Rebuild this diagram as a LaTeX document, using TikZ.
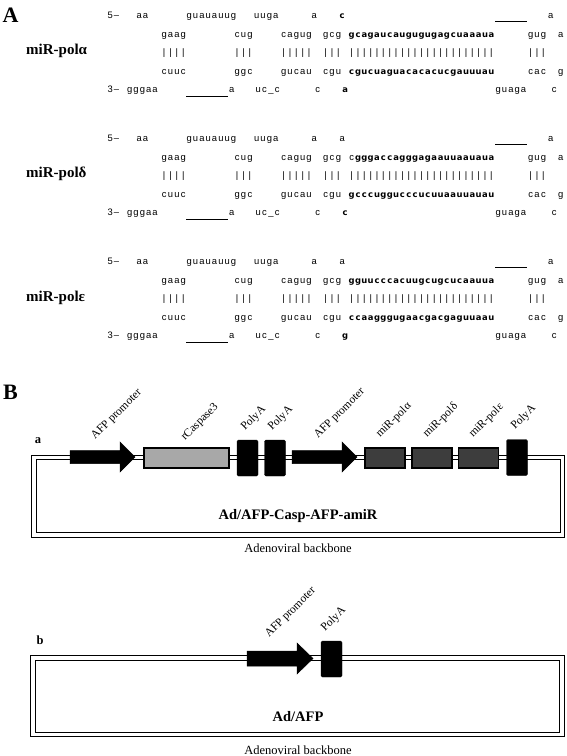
\documentclass[tikz,border=0pt]{standalone}
\usepackage{fontspec}
\setmainfont{Liberation Serif}
\setsansfont{Liberation Sans}
\newfontfamily\heavyfont{DejaVu Sans}
\makeatletter
\newcommand\fixsp[1]{\fix@loop#1\@nil}
\def\fix@loop#1{\ifx#1\@nil\else\makebox[6.35pt][c]{#1}\expandafter\fix@loop\fi}
\makeatother
\newcommand\hv{\heavyfont\bfseries\fontsize{8.4}{10}\selectfont}
\tikzset{
  seq/.style={anchor=base west, inner sep=0pt, outer sep=0pt, font=\sffamily\fontsize{9.4}{10}\selectfont},
  uline/.style={line width=0.6pt},
  mirlabel/.style={anchor=west, inner sep=0pt, font=\bfseries\fontsize{15}{17}\selectfont},
  panel/.style={inner sep=0pt, font=\bfseries\fontsize{22}{24}\selectfont},
  sublabel/.style={inner sep=0pt, font=\bfseries\fontsize{12.5}{14}\selectfont},
  rotlab/.style={rotate=45, anchor=base west, inner sep=0pt, font=\fontsize{11.5}{13}\selectfont},
  backbone/.style={draw=black, line width=1.1pt, double=white, double distance=3.4pt},
  promoter/.style={fill=black, draw=black, line width=0.5pt},
  polya/.style={fill=black, draw=black, rounded corners=1.5pt, minimum width=21pt, minimum height=36pt, inner sep=0pt},
  casp/.style={fill=black!34, draw=black, line width=1.3pt, minimum width=85pt, minimum height=20pt, inner sep=0pt},
  mirbox/.style={fill=black!76, draw=black, line width=1.3pt, minimum width=40pt, minimum height=20pt, inner sep=0pt},
  title/.style={inner sep=0pt, font=\bfseries\fontsize{14.5}{16}\selectfont},
  bbtext/.style={inner sep=0pt, font=\fontsize{12.5}{14}\selectfont}
}
% #1 id, #2 y offset, #3 row1 variable char, #4 row2 long, #5 row4 long, #6 row5 variable char
\newcommand\hairpin[6]{%
\begin{scope}[shift={(0,#2)}]
  \node[seq] (#1-r1a) at (107,2.4) {\fixsp{5–}};
  \node[seq] (#1-r1b) at (136,2.4) {\fixsp{aa}};
  \node[seq] (#1-r1c) at (186,2.4) {\fixsp{guauauug}};
  \node[seq] (#1-r1d) at (253.5,2.4) {\fixsp{uuga}};
  \node[seq] (#1-r1e) at (311,2.4) {\fixsp{a}};
  \node[seq] (#1-r1f) at (339,2.4) {#3};
  \coordinate (#1-u1a) at (495,5.1);
  \coordinate (#1-u1b) at (527,5.1);
  \draw[uline] (#1-u1a) -- (#1-u1b);
  \node[seq] (#1-r1g) at (547.5,2.4) {\fixsp{a}};
  % row 2
  \node[seq] (#1-r2a) at (161,21.4) {\fixsp{gaag}};
  \node[seq] (#1-r2b) at (234,21.4) {\fixsp{cug}};
  \node[seq] (#1-r2c) at (280.5,21.4) {\fixsp{cagug}};
  \node[seq] (#1-r2d) at (322.5,21.4) {\fixsp{gcg}};
  \node[seq] (#1-r2e) at (348.5,21.4) {#4};
  \node[seq] (#1-r2f) at (527.5,21.4) {\fixsp{gug}};
  \node[seq] (#1-r2g) at (557.5,21.4) {\fixsp{a}};
  % row 3
  \node[seq] (#1-r3a) at (161,39.4) {\fixsp{||||}};
  \node[seq] (#1-r3b) at (234,39.4) {\fixsp{|||}};
  \node[seq] (#1-r3c) at (280.5,39.4) {\fixsp{|||||}};
  \node[seq] (#1-r3d) at (322.5,39.4) {\fixsp{|||}};
  \node[seq] (#1-r3e) at (348.5,39.4) {\fixsp{|||||||||||||||||||||||}};
  \node[seq] (#1-r3f) at (527.5,39.4) {\fixsp{|||}};
  % row 4
  \node[seq] (#1-r4a) at (161,58.4) {\fixsp{cuuc}};
  \node[seq] (#1-r4b) at (234,58.4) {\fixsp{ggc}};
  \node[seq] (#1-r4c) at (280.5,58.4) {\fixsp{gucau}};
  \node[seq] (#1-r4d) at (322.5,58.4) {\fixsp{cgu}};
  \node[seq] (#1-r4e) at (348.5,58.4) {#5};
  \node[seq] (#1-r4f) at (527.5,58.4) {\fixsp{cac}};
  \node[seq] (#1-r4g) at (557.5,58.4) {\fixsp{g}};
  % row 5
  \node[seq] (#1-r5a) at (107,76.4) {\fixsp{3–}};
  \node[seq] (#1-r5b) at (126.5,76.4) {\fixsp{gggaa}};
  \coordinate (#1-u5a) at (186,80.7);
  \coordinate (#1-u5b) at (228,80.7);
  \draw[uline] (#1-u5a) -- (#1-u5b);
  \node[seq] (#1-r5c) at (228.5,76.4) {\fixsp{a}};
  \node[seq] (#1-r5d) at (255,76.4) {\fixsp{uc\_c}};
  \node[seq] (#1-r5e) at (314.5,76.4) {\fixsp{c}};
  \node[seq] (#1-r5f) at (342,76.4) {#6};
  \node[seq] (#1-r5g) at (495,76.4) {\fixsp{guaga}};
  \node[seq] (#1-r5h) at (551,76.4) {\fixsp{c}};
\end{scope}}
\begin{document}
\begin{tikzpicture}[x=1pt,y=-1pt]
\useasboundingbox (0,0) rectangle (567,756);
\fill[white] (0,0) rectangle (567,756);
% ---------- Panel A ----------
\node[panel] (labA) at (10.5,15) {A};
\hairpin{h1}{16}{{\hv\fixsp{c}}}{{\hv\fixsp{gcagaucaugugugagcuaaaua}}}{{\hv\fixsp{cgucuaguacacacucgauuuau}}}{{\hv\fixsp{a}}}
\hairpin{h2}{139}{\fixsp{a}}{\fixsp{c}{\hv\fixsp{gggaccagggagaauuaauaua}}}{{\hv\fixsp{gcccuggucccucuuaauuauau}}}{{\hv\fixsp{c}}}
\hairpin{h3}{262}{\fixsp{a}}{{\hv\fixsp{gguucccacuugcugcucaauua}}}{{\hv\fixsp{ccaagggugaacgacgaguuaau}}}{{\hv\fixsp{g}}}
\node[mirlabel] (mira) at (26,51) {miR-polα};
\node[mirlabel] (mird) at (26,174) {miR-polδ};
\node[mirlabel] (mire) at (26,298) {miR-polε};
% ---------- Panel B ----------
\node[panel] (labB) at (10.5,392) {B};
% construct a
\node[sublabel] (suba) at (38,441) {a};
\draw[backbone] (34,457.5) rectangle (562.5,535);
\draw[promoter] (70,450.5) -- (120,450.5) -- (120,442) -- (135,457) -- (120,472) -- (120,463.5) -- (70,463.5) -- cycle;
\node[casp] (caspbox) at (186.5,458) {};
\node[polya] (pa1) at (247.5,458) {};
\node[polya] (pa2) at (275,458) {};
\draw[promoter] (292,450.5) -- (342,450.5) -- (342,442) -- (357,457) -- (342,472) -- (342,463.5) -- (292,463.5) -- cycle;
\node[mirbox] (boxa) at (385,458) {};
\node[mirbox] (boxd) at (432,458) {};
\node[mirbox] (boxe) at (478.5,458) {};
\node[polya] (pa3) at (517,457.5) {};
\node[rotlab] (l1) at (95,440) {AFP promoter};
\node[rotlab] (l2) at (185,441) {rCaspase3};
\node[rotlab] (l3) at (245,431) {PolyA};
\node[rotlab] (l4) at (272,431) {PolyA};
\node[rotlab] (l5) at (318,439) {AFP promoter};
\node[rotlab] (l6) at (380,438) {miR-polα};
\node[rotlab] (l7) at (427,438) {miR-polδ};
\node[rotlab] (l8) at (473,438) {miR-polε};
\node[rotlab] (l9) at (515,430) {PolyA};
\node[title] (ta) at (298,516) {Ad/AFP-Casp-AFP-amiR};
\node[bbtext] (bba) at (298,548) {Adenoviral backbone};
% construct b
\node[sublabel] (subb) at (40,640) {b};
\draw[backbone] (33,658) rectangle (562,734.5);
\draw[promoter] (247,651) -- (297,651) -- (297,643) -- (313,658.5) -- (297,674) -- (297,666) -- (247,666) -- cycle;
\node[polya] (pb) at (331.5,659) {};
\node[rotlab] (lb1) at (269,638) {AFP promoter};
\node[rotlab] (lb2) at (325,632) {PolyA};
\node[title] (tb) at (298,717) {Ad/AFP};
\node[bbtext] (bbb) at (298,750) {Adenoviral backbone};
\end{tikzpicture}
\end{document}
